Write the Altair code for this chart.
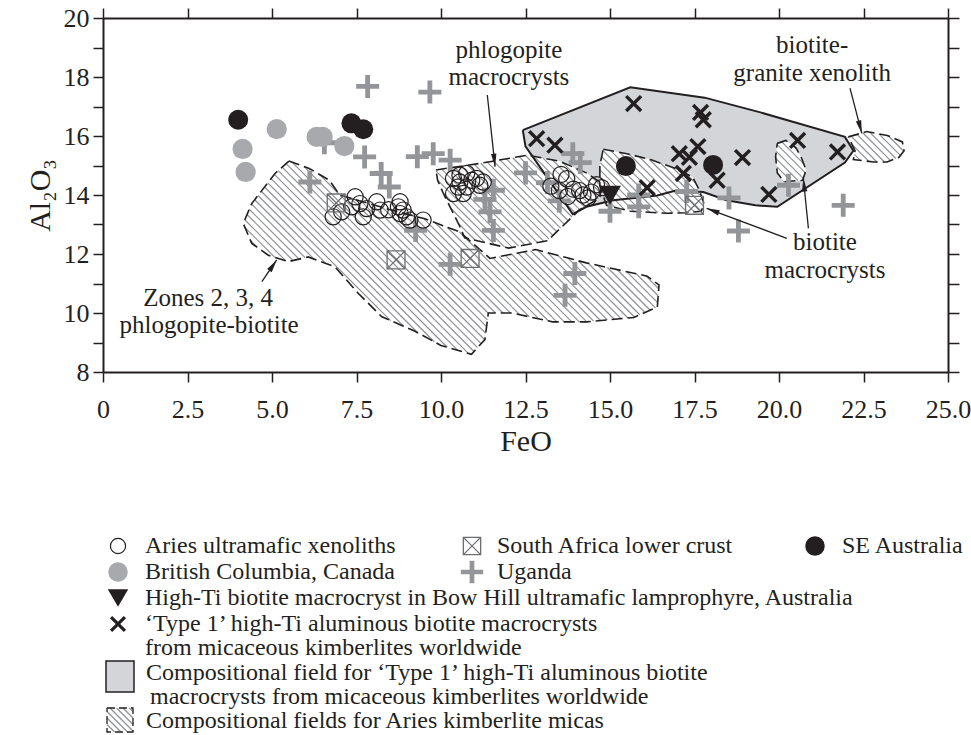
import math
import altair as alt
import pandas as pd

# ---------------- values ----------------
aries_feo = [6.81, 7.06, 7.36, 7.46, 7.60, 7.80, 7.70, 8.10, 8.20, 8.45, 8.79, 8.74, 8.88, 8.79, 8.98, 9.08, 9.47,
             10.37, 10.56, 10.76, 10.91, 11.05, 10.51, 10.76, 10.37, 11.15, 10.56, 11.25, 10.66,
             13.25, 13.50, 13.72, 13.92, 14.10, 14.20, 14.35, 14.45, 14.60, 14.75, 13.75, 13.55]
aries_al = [13.26, 13.43, 13.60, 13.94, 13.71, 13.54, 13.26, 13.77, 13.49, 13.50, 13.77, 13.60, 13.49, 13.37, 13.26, 13.15, 13.15,
            14.56, 14.67, 14.73, 14.50, 14.56, 14.27, 14.27, 14.05, 14.33, 14.44, 14.44, 14.05,
            14.30, 14.15, 14.55, 14.20, 14.15, 14.00, 13.90, 14.10, 14.35, 14.25, 13.95, 14.70]

safrica_feo = [6.90, 8.67, 10.86, 17.50]
safrica_al = [13.73, 11.80, 11.85, 13.65]

seaus_feo = [4.00, 7.35, 7.70, 15.47, 18.05]
seaus_al = [16.55, 16.43, 16.23, 14.98, 15.02]

bc_feo = [5.14, 4.13, 4.22, 6.32, 6.50, 7.14]
bc_al = [16.23, 15.56, 14.78, 15.97, 15.97, 15.66]

uganda_feo = [7.83, 9.67, 6.55, 7.74, 8.23, 8.47, 6.12, 9.25, 9.30, 9.77, 10.27, 10.27, 11.55, 11.30, 11.45, 11.55,
              12.50, 13.15, 13.90, 14.12, 13.50, 13.96, 13.67, 15.00, 15.85, 15.85, 17.27, 18.52, 18.80, 20.28, 21.90]
uganda_al = [17.68, 17.49, 15.77, 15.29, 14.73, 14.27, 14.44, 12.80, 15.30, 15.40, 15.18, 11.65, 14.16, 13.85, 13.43, 12.80,
             14.75, 14.42, 15.40, 15.10, 13.80, 11.34, 10.60, 13.45, 14.00, 13.60, 14.12, 13.90, 12.78, 14.33, 13.65]

bowhill_feo = [15.00]
bowhill_al = [13.99]

type1_feo = [15.70, 17.68, 17.76, 12.83, 13.37, 17.60, 17.05, 17.35, 17.17, 18.17, 18.92, 20.55, 21.73, 19.70, 16.10]
type1_al = [17.10, 16.80, 16.55, 15.91, 15.69, 15.64, 15.40, 15.28, 14.73, 14.50, 15.27, 15.85, 15.46, 14.02, 14.25]

# compositional fields (outline vertices, FeO / Al2O3)
field_type1 = [(12.42, 16.20), (15.60, 17.65), (17.80, 17.30), (19.45, 16.80), (21.95, 15.97), (22.20, 15.50),
               (21.95, 15.10), (19.95, 13.60), (19.30, 13.65), (18.45, 13.82), (17.76, 14.10), (16.95, 14.15),
               (16.40, 13.98), (15.10, 13.82), (14.30, 13.60), (13.90, 13.35), (12.50, 15.65)]
field_zones = [(5.50, 15.15), (6.10, 14.90), (6.70, 14.50), (7.00, 14.00), (8.50, 13.50), (9.50, 13.20), (10.55, 12.75),
               (11.45, 11.85), (12.80, 12.15), (14.30, 11.70), (16.10, 11.25), (16.45, 10.95), (16.40, 10.20),
               (15.70, 9.85), (14.30, 9.70), (13.30, 9.70), (12.10, 10.00), (11.40, 10.00), (11.30, 9.10),
               (10.90, 8.60), (10.00, 8.90), (9.20, 9.40), (8.25, 9.87), (7.55, 10.67), (6.86, 11.57), (6.07, 11.90),
               (5.48, 11.74), (4.89, 11.96), (4.40, 12.36), (4.15, 13.04), (4.40, 13.71), (5.09, 14.73)]
field_phlog = [(9.85, 14.85), (11.15, 15.07), (12.55, 15.35), (13.50, 15.15), (14.30, 14.75), (14.75, 14.40),
               (14.70, 13.90), (14.10, 13.50), (13.15, 12.45), (12.00, 12.20), (10.70, 12.55), (10.55, 12.95),
               (10.07, 14.05), (9.90, 14.50)]
field_biot1 = [(14.80, 15.55), (15.50, 15.40), (16.20, 15.20), (17.05, 14.85), (17.45, 14.60), (17.65, 14.15),
               (17.78, 13.70), (17.70, 13.45), (17.25, 13.40), (16.70, 13.38), (15.60, 13.45), (14.90, 13.65),
               (14.70, 14.30), (14.70, 15.00)]
field_biot2 = [(19.95, 15.75), (20.20, 15.85), (20.50, 15.60), (20.65, 15.30), (20.80, 14.85), (20.70, 14.50),
               (20.15, 14.45), (19.95, 14.75), (19.90, 15.30)]
field_granite = [(22.05, 15.97), (22.60, 16.15), (23.20, 16.02), (23.65, 15.80), (23.70, 15.50), (23.55, 15.28),
                 (23.20, 15.12), (22.80, 15.12), (22.20, 15.20), (22.25, 15.50)]

# annotations (text, FeO, Al2O3 at baseline)
notes_text = ["phlogopite", "macrocrysts", "biotite-", "granite xenolith", "biotite", "macrocrysts",
              "Zones 2, 3, 4", "phlogopite-biotite"]
notes_feo = [12.01, 12.01, 20.98, 20.98, 21.36, 21.36, 3.11, 3.14]
notes_al = [18.66, 17.74, 18.80, 17.88, 12.14, 11.20, 10.24, 9.32]
# arrows (from -> to)
arrow_from = [(11.37, 17.39), (22.10, 17.62), (20.23, 12.53), (20.87, 12.87), (4.70, 11.06)]
arrow_to = [(11.60, 14.96), (22.45, 16.09), (17.86, 13.55), (20.72, 14.56), (5.14, 11.80)]

x_ticks = [0, 2.5, 5, 7.5, 10, 12.5, 15, 17.5, 20, 22.5, 25]
y_ticks = list(range(8, 21))

# ---------------- layout / style ----------------
FONT = "Liberation Serif"
BLACK = "#231f20"
W, H = 845, 354
PAD_L, PAD_T = 103, 18
PAD_R = 971 - PAD_L - W
PAD_B = 735 - PAD_T - H
XMIN, XMAX, YMIN, YMAX = 0.0, 25.0, 8.0, 20.0
SX = W / (XMAX - XMIN)
SY = H / (YMAX - YMIN)
HATCH_STEP = 7.5

xs = alt.Scale(domain=[XMIN, XMAX], nice=False, zero=False)
ys = alt.Scale(domain=[YMIN, YMAX], nice=False, zero=False)


def to_px(x, y):
    return ((x - XMIN) * SX, (YMAX - y) * SY)


def to_data(u, v):
    return (XMIN + u / SX, YMAX - v / SY)


def hatch_px(P, step=HATCH_STEP):
    """45-degree '\\' hatch segments clipped to polygon P (pixel coords)."""
    n = len(P)
    cs = [v - u for u, v in P]
    segs = []
    for k in range(math.ceil(min(cs) / step), math.floor(max(cs) / step) + 1):
        c = k * step + 0.013
        us = []
        for i in range(n):
            u1, v1 = P[i]
            u2, v2 = P[(i + 1) % n]
            f1, f2 = v1 - u1 - c, v2 - u2 - c
            if (f1 < 0) != (f2 < 0):
                t = f1 / (f1 - f2)
                us.append(u1 + t * (u2 - u1))
        us.sort()
        for a, b in zip(us[0::2], us[1::2]):
            segs.append((a, a + c, b, b + c))
    return segs


def XE(f):
    return alt.X(f"{f}:Q", scale=xs, axis=None)


def YE(f):
    return alt.Y(f"{f}:Q", scale=ys, axis=None)


def poly_df(polys):
    rows = []
    for fid, poly in polys.items():
        pts = list(poly) + [poly[0]]
        for i, (x, y) in enumerate(pts):
            rows.append({"fid": fid, "ord": i, "x": x, "y": y})
    return pd.DataFrame(rows)


def pts_df(xv, yv):
    assert len(xv) == len(yv)
    return pd.DataFrame({"x": xv, "y": yv})


hatched = {"zones": field_zones, "phlog": field_phlog, "biot1": field_biot1,
           "biot2": field_biot2, "granite": field_granite}

hatch_rows = []
for poly in hatched.values():
    for a, b, c, d in hatch_px([to_px(x, y) for x, y in poly]):
        x1, y1 = to_data(a, b)
        x2, y2 = to_data(c, d)
        hatch_rows.append({"x": x1, "y": y1, "x2": x2, "y2": y2})
hatch_df = pd.DataFrame(hatch_rows)

t1_df = poly_df({"t1": field_type1})
hat_df = poly_df(hatched)

# ---------------- axes layers ----------------
corner = pd.DataFrame({"x": [XMIN, XMAX], "y": [YMIN, YMAX]})
common_axis = dict(tickColor=BLACK, tickWidth=1.5, domainColor=BLACK, domainWidth=2, grid=False,
                   labelFont=FONT, labelColor=BLACK, titleFont=FONT, titleColor=BLACK,
                   titleFontWeight="normal", labelFlush=False, labelOverlap=False)
axis_bl = alt.Chart(corner).mark_point(opacity=0).encode(
    x=alt.X("x:Q", scale=xs, axis=alt.Axis(
        orient="bottom", values=x_ticks, tickSize=10, labelFontSize=26, labelPadding=14,
        labelExpr="datum.value == 0 ? '0' : format(datum.value, '.1f')",
        title="FeO", titleFontSize=30, titlePadding=4, **common_axis)),
    y=alt.Y("y:Q", scale=ys, axis=alt.Axis(
        orient="left", values=y_ticks, tickSize=10, labelFontSize=26, labelPadding=4,
        labelExpr="datum.value % 2 == 0 ? format(datum.value, 'd') : ''",
        title="Al₂O₃", titleFontSize=30, titlePadding=8, **common_axis)),
)
axis_tr = alt.Chart(corner).mark_point(opacity=0).encode(
    x=alt.X("x:Q", scale=xs, axis=alt.Axis(orient="top", values=x_ticks, tickSize=10, labels=False,
                                          title=None, **common_axis)),
    y=alt.Y("y:Q", scale=ys, axis=alt.Axis(orient="right", values=y_ticks, tickSize=11, labels=False,
                                          title=None, **common_axis)),
)

# ---------------- fields ----------------
t1_fill = alt.Chart(t1_df).mark_line(fill="#d3d5d9", strokeOpacity=0).encode(
    x=XE("x"), y=YE("y"), order="ord:Q", detail="fid:N")
hat_fill = alt.Chart(hat_df).mark_line(fill="white", strokeOpacity=0).encode(
    x=XE("x"), y=YE("y"), order="ord:Q", detail="fid:N")
hat_lines = alt.Chart(hatch_df).mark_rule(color="#8e9093", strokeWidth=1.2).encode(
    x=XE("x"), y=YE("y"), x2="x2:Q", y2="y2:Q")
hat_outline = alt.Chart(hat_df).mark_line(color=BLACK, strokeWidth=1.6, strokeDash=[11, 5]).encode(
    x=XE("x"), y=YE("y"), order="ord:Q", detail="fid:N")
t1_outline = alt.Chart(t1_df).mark_line(color=BLACK, strokeWidth=2).encode(
    x=XE("x"), y=YE("y"), order="ord:Q", detail="fid:N")

# ---------------- symbols ----------------
PLUS = "M-1,-0.21H-0.21V-1H0.21V-0.21H1V0.21H0.21V1H-0.21V0.21H-1Z"
XSHAPE = "M-1,-0.72L-0.72,-1L0,-0.28L0.72,-1L1,-0.72L0.28,0L1,0.72L0.72,1L0,0.28L-0.72,1L-1,0.72L-0.28,0Z"
BOXX = "M-1,-1H1V1H-1Z M-1,-1L1,1 M1,-1L-1,1"
ARROWHEAD = "M0,-1L0.42,1L-0.42,1Z"


def sym(df, **mk):
    return alt.Chart(df).mark_point(**mk).encode(x=XE("x"), y=YE("y"))


lay_uganda = sym(pts_df(uganda_feo, uganda_al), shape=PLUS, filled=True, color="#939598", size=530, opacity=1)
lay_bc = sym(pts_df(bc_feo, bc_al), shape="circle", filled=True, color="#a7a9ac", size=410, opacity=1)
lay_seaus = sym(pts_df(seaus_feo, seaus_al), shape="circle", filled=True, color=BLACK, size=400, opacity=1)
lay_aries = sym(pts_df(aries_feo, aries_al), shape="circle", filled=False, color=BLACK, size=260,
                strokeWidth=1.2, opacity=1)
lay_sa = sym(pts_df(safrica_feo, safrica_al), shape=BOXX, filled=False, color="#6d6e71", size=320,
             strokeWidth=1.3, opacity=1)
lay_t1 = sym(pts_df(type1_feo, type1_al), shape=XSHAPE, filled=True, color=BLACK, size=300, opacity=1)
lay_bow = sym(pts_df(bowhill_feo, bowhill_al), shape="triangle-down", filled=True, color=BLACK, size=480,
              opacity=1)

# ---------------- annotations ----------------
notes_df = pd.DataFrame({"t": notes_text, "x": notes_feo, "y": notes_al})
lay_notes = alt.Chart(notes_df).mark_text(font=FONT, fontSize=25, color=BLACK, align="center",
                                          baseline="alphabetic").encode(x=XE("x"), y=YE("y"), text="t:N")

arrow_rows, head_rows = [], []
HEAD = 13.0
for (fx, fy), (tx, ty) in zip(arrow_from, arrow_to):
    u1, v1 = to_px(fx, fy)
    u2, v2 = to_px(tx, ty)
    du, dv = u2 - u1, v2 - v1
    L = math.hypot(du, dv)
    ang = math.degrees(math.atan2(du, -dv)) % 360
    cu, cv = u2 - du / L * HEAD / 2, v2 - dv / L * HEAD / 2
    hx, hy = to_data(cu, cv)
    arrow_rows.append({"x": fx, "y": fy, "x2": tx, "y2": ty})
    head_rows.append({"x": hx, "y": hy, "ang": ang})
lay_arrows = alt.Chart(pd.DataFrame(arrow_rows)).mark_rule(color=BLACK, strokeWidth=1.3).encode(
    x=XE("x"), y=YE("y"), x2="x2:Q", y2="y2:Q")
lay_heads = alt.Chart(pd.DataFrame(head_rows)).mark_point(
    shape=ARROWHEAD, filled=True, color=BLACK, size=HEAD * HEAD, opacity=1).encode(
    x=XE("x"), y=YE("y"), angle=alt.Angle("ang:Q", scale=None))

# ---------------- legend (pixel positions below the plot) ----------------
R = [546, 572, 598, 624, 648, 673, 697, 721]
LFS = 24


def PX(f):
    return alt.X(f"{f}:Q", scale=None, axis=None)


def PY(f):
    return alt.Y(f"{f}:Q", scale=None, axis=None)


def lg(items):
    return pd.DataFrame([{"px": a - PAD_L, "py": b - PAD_T} for a, b in items])


leg_text = pd.DataFrame([
    {"t": "Aries ultramafic xenoliths", "px": 145, "py": R[0]},
    {"t": "South Africa lower crust", "px": 497, "py": R[0]},
    {"t": "SE Australia", "px": 842, "py": R[0]},
    {"t": "British Columbia, Canada", "px": 145, "py": R[1]},
    {"t": "Uganda", "px": 497, "py": R[1]},
    {"t": "High-Ti biotite macrocryst in Bow Hill ultramafic lamprophyre, Australia", "px": 145, "py": R[2]},
    {"t": "\u2018Type 1\u2019 high-Ti aluminous biotite macrocrysts", "px": 145, "py": R[3]},
    {"t": "from micaceous kimberlites worldwide", "px": 145, "py": R[4]},
    {"t": "Compositional field for \u2018Type 1\u2019 high-Ti aluminous biotite", "px": 146, "py": R[5]},
    {"t": "macrocrysts from micaceous kimberlites worldwide", "px": 150, "py": R[6]},
    {"t": "Compositional fields for Aries kimberlite micas", "px": 146, "py": R[7]},
])
leg_text["px"] = leg_text["px"] - PAD_L
leg_text["py"] = leg_text["py"] - PAD_T
lay_leg_text = alt.Chart(leg_text).mark_text(font=FONT, fontSize=LFS, color=BLACK, align="left",
                                             baseline="middle").encode(x=PX("px"), y=PY("py"), text="t:N")


def lsym(items, **mk):
    return alt.Chart(lg(items)).mark_point(**mk).encode(x=PX("px"), y=PY("py"))


leg_syms = [
    lsym([(118, R[0])], shape="circle", filled=False, color=BLACK, size=230, strokeWidth=1.2, opacity=1),
    lsym([(472, R[0])], shape=BOXX, filled=False, color="#6d6e71", size=300, strokeWidth=1.3, opacity=1),
    lsym([(815, R[0])], shape="circle", filled=True, color=BLACK, size=380, opacity=1),
    lsym([(118, R[1])], shape="circle", filled=True, color="#a7a9ac", size=380, opacity=1),
    lsym([(472, R[1])], shape=PLUS, filled=True, color="#939598", size=500, opacity=1),
    lsym([(118, R[2])], shape="triangle-down", filled=True, color=BLACK, size=420, opacity=1),
    lsym([(118, R[3])], shape=XSHAPE, filled=True, color=BLACK, size=260, opacity=1),
]

gbox = pd.DataFrame([{"px": 106 - PAD_L, "py": R[5] - 12 - PAD_T, "px2": 134 - PAD_L, "py2": R[5] + 19 - PAD_T}])
lay_gbox = alt.Chart(gbox).mark_rect(fill="#d3d5d9", stroke=BLACK, strokeWidth=1.5).encode(
    x=PX("px"), y=PY("py"), x2="px2:Q", y2="py2:Q")

hb = [(107, R[7] - 13), (133, R[7] - 13), (133, R[7] + 11), (107, R[7] + 11)]
hb_rows = [{"px": a - PAD_L, "py": b - PAD_T, "px2": c - PAD_L, "py2": d - PAD_T}
           for a, b, c, d in hatch_px(hb, 6.5)]
lay_hbox_lines = alt.Chart(pd.DataFrame(hb_rows)).mark_rule(color="#8e9093", strokeWidth=1.2).encode(
    x=PX("px"), y=PY("py"), x2="px2:Q", y2="py2:Q")
hb_out = pd.DataFrame([{"px": hb[i][0] - PAD_L, "py": hb[i][1] - PAD_T, "o": i} for i in range(4)]
                      + [{"px": hb[0][0] - PAD_L, "py": hb[0][1] - PAD_T, "o": 4}])
lay_hbox_out = alt.Chart(hb_out).mark_line(color=BLACK, strokeWidth=1.3, strokeDash=[8, 4]).encode(
    x=PX("px"), y=PY("py"), order="o:Q")

chart = alt.layer(
    axis_bl, axis_tr,
    t1_fill, hat_fill, hat_lines, hat_outline, t1_outline,
    lay_uganda, lay_bc, lay_seaus, lay_aries, lay_sa, lay_t1, lay_bow,
    lay_arrows, lay_heads, lay_notes,
    lay_leg_text, *leg_syms, lay_gbox, lay_hbox_lines, lay_hbox_out,
).resolve_axis(x="independent", y="independent").properties(
    width=W, height=H,
    padding={"left": PAD_L, "top": PAD_T, "right": PAD_R, "bottom": PAD_B},
    autosize=alt.AutoSizeParams(type="none"),
).configure_view(stroke=None).configure(background="white")

chart.save("out.html", embed_options={"renderer": "svg", "actions": False})
